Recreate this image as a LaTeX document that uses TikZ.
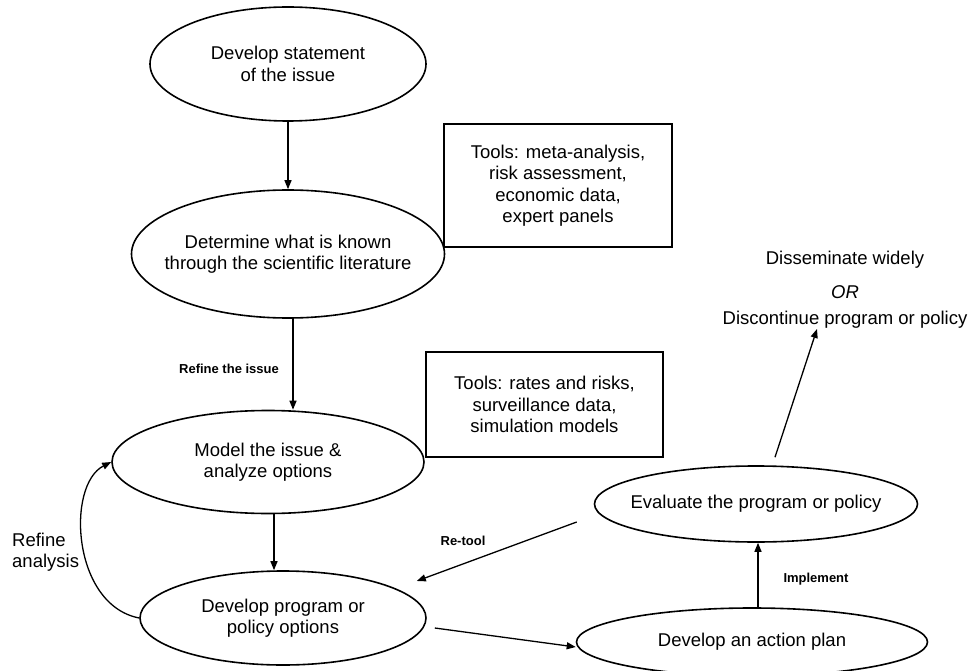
\documentclass[tikz,border=0pt]{standalone}
\usepackage{fontspec}
\setmainfont{Liberation Sans}
\usetikzlibrary{shapes.geometric,arrows.meta}
\newcommand{\mainfnt}{\fontsize{18.5}{21.5}\selectfont}
\newcommand{\smallfnt}{\fontsize{13}{15}\selectfont\bfseries}
\begin{document}
\begin{tikzpicture}[x=1pt,y=-1pt,
  oval/.style={ellipse,draw,line width=1.6pt,inner sep=0pt},
  ovaltext/.style={align=center,font=\mainfnt,inner sep=0pt},
  toolbox/.style={draw,line width=1.3pt,align=center,font=\mainfnt,inner sep=0pt},
  arr/.style={-{Triangle[length=9pt,width=7pt]},line width=1.3pt},
  lbl/.style={font=\smallfnt,inner sep=0pt},
  txt/.style={font=\mainfnt,inner sep=0pt}]
\useasboundingbox (0,0) rectangle (969,671);

% ellipses
\node[oval,minimum width=276pt,minimum height=114pt] (e1) at (288,64) {};
\node[ovaltext] (t1) at (e1.center) {Develop statement\\of the issue};
\node[oval,minimum width=313pt,minimum height=128pt] (e2) at (288,254) {};
\node[ovaltext] (t2) at (e2.center) {Determine what is known\\through the scientific literature};
\node[oval,minimum width=312pt,minimum height=103pt] (e3) at (268,462) {};
\node[ovaltext] (t3) at (e3.center) {Model the issue \&\\analyze options};
\node[oval,minimum width=286pt,minimum height=94pt] (e4) at (283,618) {};
\node[ovaltext] (t4) at (e4.center) {Develop program or\\policy options};
\node[oval,minimum width=323pt,minimum height=76pt] (e5) at (756,504) {};
\node[ovaltext] (t5) at (e5.center) {Evaluate the program or policy};
\node[oval,minimum width=351pt,minimum height=68pt] (e6) at (752,642) {};
\node[ovaltext] (t6) at (e6.center) {Develop an action plan};

% tool boxes
\node[toolbox,minimum width=228pt,minimum height=123pt] (b1) at (558,185.5)
  {Tools: meta-analysis,\\risk assessment,\\economic data,\\expert panels};
\node[toolbox,minimum width=237pt,minimum height=105pt] (b2) at (544.5,404.5)
  {Tools: rates and risks,\\surveillance data,\\simulation models};

% outcome texts
\node[txt] (d1) at (845,260) {Disseminate widely};
\node[txt] (d2) at (845,292) {\itshape OR};
\node[txt] (d3) at (845,320) {Discontinue program or policy};
\coordinate (dtip) at (817,329);

% labels
\node[lbl] (l1) at (229,369) {Refine the issue};
\node[lbl] (l2) at (463,541) {Re-tool};
\node[lbl] (l3) at (816,579) {Implement};
\node[txt,align=left,anchor=west] (l4) at (12,552) {Refine\\analysis};

% connectors
\draw[arr] (e1.south) -- (e2.north);
\draw[arr] ([xshift=5pt]e2.south) -- ([xshift=25pt]e3.north);
\draw[arr] ([xshift=6pt]e3.south) -- ([xshift=-9pt]e4.north);
\draw[arr] ([xshift=6pt]e6.north) -- ([xshift=2pt]e5.south);
\draw[arr] ([shift={(8pt,-10pt)}]e4.east) -- ([yshift=-5pt]e6.west);
\draw[arr] ([shift={(-17pt,-18pt)}]e5.west) -- ([shift={(-10pt,37pt)}]e4.east);
\draw[arr] ([shift={(19pt,8pt)}]e5.north) -- (dtip);
\draw[arr] (e4.west) .. controls (72,605) and (66,485) .. (e3.west);
\end{tikzpicture}
\end{document}
